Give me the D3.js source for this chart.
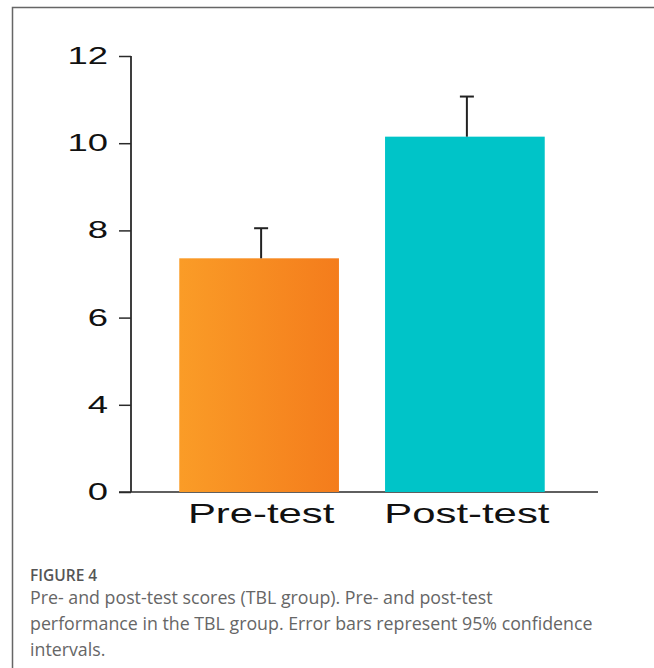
<!DOCTYPE html>
<html>
<head>
<meta charset="utf-8">
<script src="https://cdn.jsdelivr.net/npm/d3@7"></script>
<style>
  html, body { margin: 0; padding: 0; background: #fff; }
  svg { display: block; }
</style>
</head>
<body>
<svg id="chart" width="654" height="668"></svg>
<script>
// Mean scores with upper 95% CI bounds
const groups = ["Pre-test", "Post-test"];
const means = [7.36, 10.15];
const ciUpper = [8.05, 11.07];
const barColors = ["url(#preGrad)", "#00c4c8"];

// Axis ticks; the bottom tick of the axis carries the label "0"
const tickValues = [2, 4, 6, 8, 10, 12];
const tickLabels = ["0", "4", "6", "8", "10", "12"];

const captionTitle = "FIGURE 4";
const captionLines = [
  "Pre- and post-test scores (TBL group). Pre- and post-test",
  "performance in the TBL group. Error bars represent 95% confidence",
  "intervals."
];

const svg = d3.select("#chart");

// Panel frame (open to the right and bottom)
svg.append("path")
  .attr("d", "M12.5,668 V7.5 H654")
  .attr("fill", "none")
  .attr("stroke", "#666")
  .attr("stroke-width", 1.5);

const defs = svg.append("defs");
const g1 = defs.append("linearGradient").attr("id", "preGrad")
  .attr("x1", "0%").attr("x2", "100%").attr("y1", "0%").attr("y2", "0%");
g1.append("stop").attr("offset", "0%").attr("stop-color", "#fa9c27");
g1.append("stop").attr("offset", "100%").attr("stop-color", "#f47c1c");

const x = d3.scaleBand()
  .domain(groups)
  .range([134, 590])
  .paddingInner(0.224)
  .paddingOuter(0.22);

const y = d3.scaleLinear()
  .domain([2, 12])
  .range([492, 56]);

const axisColor = "#2a2a2a";
const stretch = 1.55; // horizontal widening of the axis lettering

// Y axis
const yAxis = d3.axisLeft(y)
  .tickValues(tickValues)
  .tickFormat((d, i) => tickLabels[i])
  .tickSize(12)
  .tickPadding(12);

const ya = svg.append("g")
  .attr("transform", "translate(131,0)")
  .call(yAxis);
ya.select(".domain").attr("stroke", axisColor).attr("stroke-width", 1.8)
  .attr("d", `M0,${y(12)}V${y(2)}`);
ya.selectAll(".tick line").attr("stroke", axisColor).attr("stroke-width", 1.5);
ya.selectAll(".tick text")
  .attr("x", 0)
  .attr("transform", `translate(-23,0) scale(${stretch},1)`)
  .attr("fill", "#111")
  .style("font-family", "'Liberation Sans', Arial, sans-serif")
  .style("font-size", "23.5px");

// X axis baseline
svg.append("line")
  .attr("x1", 119).attr("x2", 598)
  .attr("y1", y(2)).attr("y2", y(2))
  .attr("stroke", axisColor)
  .attr("stroke-width", 1.5);

// Bars
svg.selectAll("rect.bar")
  .data(groups)
  .join("rect")
  .attr("class", "bar")
  .attr("x", d => x(d))
  .attr("width", x.bandwidth())
  .attr("y", (d, i) => y(means[i]))
  .attr("height", (d, i) => y(2) - y(means[i]))
  .attr("fill", (d, i) => barColors[i]);

// Error bars (upper whisker only)
const capW = 14;
const eb = svg.selectAll("g.err")
  .data(groups)
  .join("g")
  .attr("class", "err")
  .attr("transform", d => `translate(${x(d) + x.bandwidth() / 2 + 2},0)`);
eb.append("line")
  .attr("x1", 0).attr("x2", 0)
  .attr("y1", (d, i) => y(means[i]))
  .attr("y2", (d, i) => y(ciUpper[i]))
  .attr("stroke", "#222").attr("stroke-width", 2);
eb.append("line")
  .attr("x1", -capW / 2).attr("x2", capW / 2)
  .attr("y1", (d, i) => y(ciUpper[i]))
  .attr("y2", (d, i) => y(ciUpper[i]))
  .attr("stroke", "#222").attr("stroke-width", 2);

// Category labels
svg.selectAll("text.cat")
  .data(groups)
  .join("text")
  .attr("class", "cat")
  .attr("transform", d => `translate(${x(d) + x.bandwidth() / 2 + 2},523) scale(${stretch},1)`)
  .attr("text-anchor", "middle")
  .attr("fill", "#111")
  .style("font-family", "'Liberation Sans', Arial, sans-serif")
  .style("font-size", "27px")
  .text(d => d);

// Caption
svg.append("text")
  .attr("x", 30).attr("y", 581)
  .attr("fill", "#555")
  .style("font-family", "'Open Sans', sans-serif")
  .style("font-size", "15.5px")
  .style("font-weight", "600")
  .text(captionTitle);

svg.selectAll("text.cap")
  .data(captionLines)
  .join("text")
  .attr("class", "cap")
  .attr("x", 30)
  .attr("y", (d, i) => 604 + i * 26)
  .attr("fill", "#666")
  .style("font-family", "'Open Sans', sans-serif")
  .style("font-size", "17.8px")
  .text(d => d);
</script>
</body>
</html>
